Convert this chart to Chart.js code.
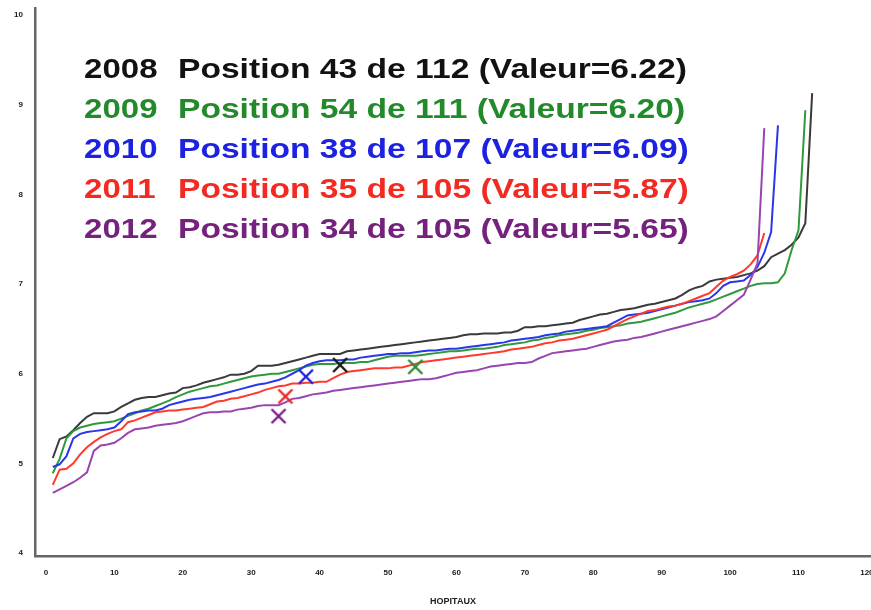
<!DOCTYPE html>
<html>
<head>
<meta charset="utf-8">
<script src="https://cdn.jsdelivr.net/npm/chart.js@4.4.1/dist/chart.umd.min.js"></script>
<style>
  html, body { margin: 0; padding: 0; background: #fff; }
  #wrap { width: 871px; height: 610px; }
</style>
</head>
<body>
<div id="wrap"><canvas id="classement" width="871" height="610"></canvas></div>
<script>
// classement des hopitaux, valeurs triees par annee
const years = ["2008", "2009", "2010", "2011", "2012"];
const rangs = [43, 54, 38, 35, 34];

const v2008 = [
  5.06, 5.27, 5.30, 5.37, 5.45, 5.52, 5.56, 5.56, 5.56, 5.58,
  5.63, 5.67, 5.71, 5.73, 5.74, 5.74, 5.76, 5.78, 5.79, 5.84,
  5.85, 5.87, 5.90, 5.92, 5.94, 5.96, 5.99, 5.99, 6.00, 6.03,
  6.09, 6.09, 6.09, 6.10, 6.12, 6.14, 6.16, 6.18, 6.20, 6.22,
  6.22, 6.22, 6.22, 6.25, 6.26, 6.27, 6.28, 6.29, 6.30, 6.31,
  6.32, 6.33, 6.34, 6.35, 6.36, 6.37, 6.38, 6.39, 6.40, 6.41,
  6.43, 6.44, 6.44, 6.45, 6.45, 6.45, 6.46, 6.46, 6.48, 6.52,
  6.52, 6.53, 6.53, 6.54, 6.55, 6.56, 6.57, 6.60, 6.62, 6.64,
  6.66, 6.67, 6.69, 6.71, 6.72, 6.73, 6.75, 6.77, 6.78, 6.80,
  6.82, 6.84, 6.88, 6.93, 6.96, 6.98, 7.03, 7.05, 7.06, 7.07,
  7.08, 7.10, 7.12, 7.15, 7.20, 7.30, 7.34, 7.38, 7.44, 7.52,
  7.68, 9.13
];
const v2009 = [
  4.89, 5.05, 5.28, 5.36, 5.40, 5.42, 5.44, 5.45, 5.46, 5.47,
  5.50, 5.53, 5.56, 5.59, 5.61, 5.64, 5.67, 5.70, 5.74, 5.77,
  5.80, 5.82, 5.84, 5.86, 5.87, 5.89, 5.91, 5.93, 5.95, 5.97,
  5.98, 5.99, 6.00, 6.00, 6.02, 6.04, 6.06, 6.08, 6.10, 6.11,
  6.11, 6.11, 6.12, 6.12, 6.12, 6.13, 6.13, 6.15, 6.17, 6.19,
  6.20, 6.20, 6.20, 6.20, 6.21, 6.22, 6.23, 6.24, 6.25, 6.25,
  6.26, 6.27, 6.28, 6.28, 6.29, 6.30, 6.32, 6.33, 6.34, 6.35,
  6.37, 6.38, 6.40, 6.41, 6.43, 6.44, 6.45, 6.46, 6.48, 6.49,
  6.51, 6.52, 6.53, 6.54, 6.56, 6.57, 6.58, 6.60, 6.62, 6.64,
  6.66, 6.68, 6.71, 6.74, 6.76, 6.78, 6.80, 6.83, 6.86, 6.89,
  6.92, 6.95, 6.98, 7.00, 7.01, 7.01, 7.02, 7.12, 7.38, 7.60,
  8.94
];
const v2010 = [
  4.96, 4.99, 5.08, 5.28, 5.33, 5.35, 5.36, 5.37, 5.38, 5.40,
  5.47, 5.55, 5.57, 5.58, 5.59, 5.59, 5.61, 5.65, 5.67, 5.69,
  5.71, 5.72, 5.73, 5.74, 5.76, 5.78, 5.80, 5.82, 5.84, 5.86,
  5.88, 5.89, 5.91, 5.93, 5.96, 6.00, 6.04, 6.09, 6.12, 6.14,
  6.15, 6.15, 6.15, 6.16, 6.16, 6.18, 6.19, 6.20, 6.21, 6.22,
  6.22, 6.23, 6.23, 6.24, 6.25, 6.26, 6.26, 6.27, 6.28, 6.28,
  6.29, 6.30, 6.31, 6.32, 6.33, 6.34, 6.35, 6.37, 6.38, 6.39,
  6.40, 6.41, 6.43, 6.44, 6.45, 6.47, 6.48, 6.49, 6.50, 6.51,
  6.52, 6.53, 6.57, 6.61, 6.65, 6.66, 6.67, 6.68, 6.70, 6.72,
  6.74, 6.76, 6.78, 6.80, 6.81, 6.82, 6.84, 6.90, 6.98, 7.02,
  7.03, 7.04, 7.10, 7.19, 7.35, 7.58, 8.77
];
const v2011 = [
  4.76, 4.93, 4.94, 5.00, 5.10, 5.18, 5.24, 5.29, 5.33, 5.36,
  5.38, 5.46, 5.48, 5.51, 5.54, 5.57, 5.58, 5.59, 5.59, 5.60,
  5.61, 5.62, 5.63, 5.66, 5.69, 5.70, 5.72, 5.73, 5.75, 5.77,
  5.79, 5.82, 5.84, 5.86, 5.87, 5.89, 5.89, 5.90, 5.90, 5.91,
  5.91, 5.95, 5.99, 6.02, 6.03, 6.04, 6.05, 6.06, 6.06, 6.06,
  6.07, 6.07, 6.09, 6.11, 6.13, 6.14, 6.15, 6.16, 6.17, 6.18,
  6.19, 6.20, 6.21, 6.22, 6.23, 6.24, 6.25, 6.27, 6.28, 6.29,
  6.30, 6.32, 6.34, 6.35, 6.37, 6.38, 6.39, 6.41, 6.43, 6.45,
  6.47, 6.49, 6.53, 6.57, 6.61, 6.64, 6.67, 6.70, 6.71, 6.73,
  6.75, 6.76, 6.78, 6.81, 6.84, 6.87, 6.90, 6.97, 7.04, 7.08,
  7.11, 7.15, 7.22, 7.32, 7.57
];
const v2012 = [
  4.67, 4.71, 4.75, 4.79, 4.84, 4.90, 5.14, 5.20, 5.21, 5.23,
  5.28, 5.34, 5.38, 5.39, 5.40, 5.42, 5.43, 5.44, 5.45, 5.47,
  5.50, 5.53, 5.56, 5.57, 5.57, 5.58, 5.58, 5.60, 5.61, 5.62,
  5.64, 5.65, 5.65, 5.65, 5.68, 5.72, 5.73, 5.75, 5.77, 5.78,
  5.79, 5.81, 5.82, 5.83, 5.84, 5.85, 5.86, 5.87, 5.88, 5.89,
  5.90, 5.91, 5.92, 5.93, 5.94, 5.94, 5.95, 5.97, 5.99, 6.01,
  6.02, 6.03, 6.04, 6.06, 6.08, 6.09, 6.10, 6.11, 6.12, 6.12,
  6.13, 6.17, 6.20, 6.23, 6.24, 6.25, 6.26, 6.27, 6.28, 6.30,
  6.32, 6.34, 6.36, 6.37, 6.38, 6.40, 6.41, 6.43, 6.45, 6.47,
  6.49, 6.51, 6.53, 6.55, 6.57, 6.59, 6.61, 6.64, 6.70, 6.76,
  6.82, 6.88, 7.05, 7.23, 8.74
];

const xTicks = [0, 10, 20, 30, 40, 50, 60, 70, 80, 90, 100, 110, 120];
const yTicks = [4, 5, 6, 7, 8, 9, 10];

const series = [v2008, v2009, v2010, v2011, v2012];
const lineColors = ["#3a3a3a", "#2f9a3c", "#2a36e8", "#ff3a2c", "#9a44b0"];
const textColors = ["#121212", "#238a2b", "#1c22e0", "#f22a22", "#74227e"];
const crossColors = ["#1a1a1a", "#2a8a34", "#1e22d8", "#ee2222", "#7a1f88"];

// croix dessinee un peu sous son point d'ancrage
function croix(color) {
  const c = document.createElement("canvas");
  c.width = 20;
  c.height = 44;
  const g = c.getContext("2d");
  const cx = 10, cy = 22 + 11;
  g.strokeStyle = color;
  g.lineWidth = 2.4;
  g.beginPath();
  g.moveTo(cx - 7, cy - 7); g.lineTo(cx + 7, cy + 7);
  g.moveTo(cx + 7, cy - 7); g.lineTo(cx - 7, cy + 7);
  g.stroke();
  return c;
}

const datasets = [];
series.forEach((vals, k) => {
  datasets.push({
    label: years[k],
    data: vals.map((v, i) => ({ x: i + 1, y: v })),
    borderColor: lineColors[k],
    borderWidth: 2,
    pointRadius: 0,
    tension: 0,
    fill: false,
    order: 10 - k
  });
});
series.forEach((vals, k) => {
  datasets.push({
    label: "rang " + years[k],
    data: [{ x: rangs[k], y: vals[rangs[k] - 1] }],
    showLine: false,
    pointStyle: croix(crossColors[k]),
    pointRadius: 5,
    order: 0
  });
});

// les cinq lignes de texte en haut a gauche
const titresAnnees = {
  id: "titresAnnees",
  afterDraw(chart) {
    const ctx = chart.ctx;
    ctx.save();
    ctx.font = 'bold 28px "Liberation Sans", Arial, sans-serif';
    ctx.textBaseline = "alphabetic";
    series.forEach((vals, k) => {
      const r = rangs[k];
      const y = 78 + k * 40;
      ctx.fillStyle = textColors[k];

      ctx.save();
      ctx.translate(84, y);
      ctx.scale(1.18, 1);
      ctx.fillText(years[k], 0, 0);
      ctx.restore();

      ctx.save();
      ctx.translate(178, y);
      ctx.scale(1.2, 1);
      ctx.fillText("Position " + r + " de " + vals.length +
        " (Valeur=" + vals[r - 1].toFixed(2) + ")", 0, 0);
      ctx.restore();
    });
    ctx.restore();
  }
};

const axisFont = { family: '"Liberation Sans", Arial, sans-serif', size: 8, weight: "bold" };

new Chart(document.getElementById("classement"), {
  type: "line",
  data: { datasets: datasets },
  options: {
    responsive: false,
    animation: false,
    layout: { autoPadding: false, padding: { top: 8, right: 0, bottom: 0, left: 0 } },
    plugins: {
      legend: { display: false },
      tooltip: { enabled: false }
    },
    scales: {
      x: {
        type: "linear",
        min: -1.6,
        max: 120.6,
        grid: { display: false, drawTicks: false },
        border: { display: true, color: "#666", width: 2.5 },
        ticks: { font: axisFont, color: "#1a1a1a", padding: 12, autoSkip: false, maxRotation: 0,
          callback: (v) => String(v) },
        afterBuildTicks: (s) => { s.ticks = xTicks.map((v) => ({ value: v })); },
        afterFit: (s) => { s.height = 54; s.paddingLeft = 0; s.paddingRight = 0; },
        title: {
          display: true,
          text: "HOPITAUX",
          font: { family: '"Liberation Sans", Arial, sans-serif', size: 9, weight: "bold" },
          color: "#222",
          padding: { top: 0, bottom: 3 }
        }
      },
      y: {
        type: "linear",
        min: 3.967,
        max: 10.08,
        grid: { display: false, drawTicks: false },
        border: { display: true, color: "#666", width: 2.5 },
        ticks: { font: axisFont, color: "#1a1a1a", padding: 12, autoSkip: false,
          callback: (v) => String(v) },
        afterBuildTicks: (s) => { s.ticks = yTicks.map((v) => ({ value: v })); },
        afterFit: (s) => { s.width = 35; s.paddingTop = 0; s.paddingBottom = 0; }
      }
    }
  },
  plugins: [titresAnnees]
});
</script>
</body>
</html>
